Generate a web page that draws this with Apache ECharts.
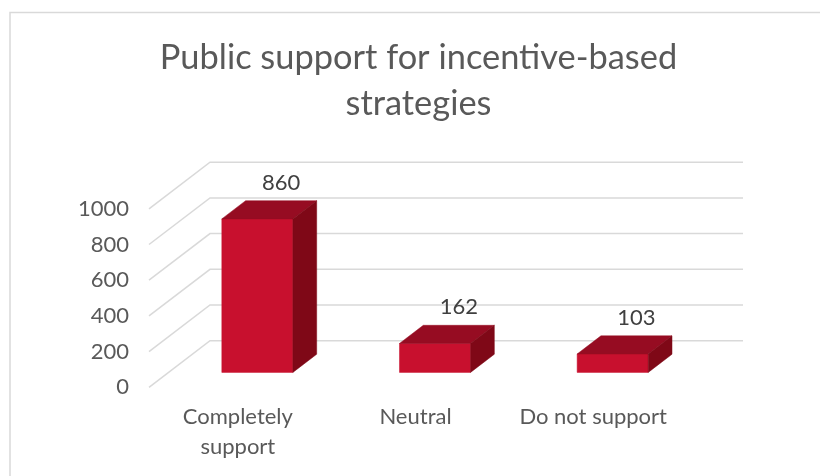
<!DOCTYPE html>
<html>
<head>
<meta charset="utf-8">
<style>html,body{margin:0;padding:0;background:#fff}#c{width:820px;height:476px}</style>
<script src="https://cdn.jsdelivr.net/npm/echarts@6/dist/echarts.min.js"></script>
</head>
<body>
<div id="c"></div>
<script>
const categories = ['Completely\nsupport', 'Neutral', 'Do not support'];
const values = [860, 162, 103];
const yTicks = [0, 200, 400, 600, 800, 1000];
const titleText = 'Public support for incentive-based\nstrategies';

const FLOOR_DX = 61, FLOOR_DY = -46.6;
const BAR_FRONT = 0.32, BAR_BACK = 0.71, BAR_WIDTH = 0.40;
const FONT = 'Lato';

const chart = echarts.init(document.getElementById('c'), null, {renderer: 'canvas'});

function poly(points, fill) {
  return {type: 'polygon', shape: {points}, style: {fill, stroke: fill, lineWidth: 0.5}};
}

chart.setOption({
  animation: false,
  backgroundColor: '#ffffff',
  title: {
    text: titleText, left: 413.5, top: 30, textAlign: 'center',
    textStyle: {fontFamily: FONT, fontSize: 34.4, fontWeight: 'normal', color: '#595959', lineHeight: 46}
  },
  graphic: [{
    type: 'polyline', silent: true,
    shape: {points: [[10, 476], [10, 12.5], [820, 12.5]]},
    style: {stroke: '#d9d9d9', lineWidth: 1.5, fill: null}
  }],
  grid: {left: 149, right: 138, top: 208.8, height: 178.5},
  xAxis: {
    type: 'category', data: categories,
    axisLine: {show: false}, axisTick: {show: false},
    axisLabel: {interval: 0, margin: 15, fontFamily: FONT, fontSize: 22, color: '#595959', lineHeight: 30}
  },
  yAxis: {
    type: 'value', min: 0, max: 1000, interval: 200,
    axisLine: {show: false}, axisTick: {show: false}, splitLine: {show: false},
    axisLabel: {margin: 20, fontFamily: FONT, fontSize: 22, color: '#595959', formatter: v => String(v)}
  },
  series: [{
    type: 'custom', z: 1, silent: true,
    data: yTicks,
    encode: {y: 0},
    renderItem(params, api) {
      const y = api.coord([0, api.value(0)])[1];
      const area = params.coordSys;
      return {
        type: 'polyline',
        shape: {points: [[area.x, y], [area.x + FLOOR_DX, y + FLOOR_DY], [area.x + area.width + FLOOR_DX, y + FLOOR_DY]]},
        style: {stroke: '#d9d9d9', lineWidth: 1.5, fill: null}
      };
    }
  }, {
    type: 'custom', z: 2, silent: true,
    data: values.map((v, i) => [i, v]),
    encode: {x: 0, y: 1},
    renderItem(params, api) {
      const cat = api.value(0), val = api.value(1);
      const base = api.coord([cat, 0]), top = api.coord([cat, val]);
      const w = api.size([1, 0])[0] * BAR_WIDTH;
      const fx = FLOOR_DX * BAR_FRONT, fy = FLOOR_DY * BAR_FRONT;
      const bx = FLOOR_DX * BAR_BACK, by = FLOOR_DY * BAR_BACK;
      const x0 = base[0] + fx - w / 2, x1 = x0 + w;
      const yb = base[1] + fy, yt = top[1] + fy;
      const dx = bx - fx, dy = by - fy;
      return {
        type: 'group',
        children: [
          poly([[x0, yb], [x1, yb], [x1, yt], [x0, yt]], '#c8102e'),
          poly([[x0, yt], [x1, yt], [x1 + dx, yt + dy], [x0 + dx, yt + dy]], '#960c22'),
          poly([[x1, yb], [x1 + dx, yb + dy], [x1 + dx, yt + dy], [x1, yt]], '#7f0817'),
          {
            type: 'text', z2: 5,
            style: {
              text: String(val), x: (x0 + x1) / 2 + dx, y: yt + dy - 18,
              align: 'center', verticalAlign: 'middle',
              fontFamily: FONT, fontSize: 22, fill: '#404040'
            }
          }
        ]
      };
    }
  }]
});
</script>
</body>
</html>
